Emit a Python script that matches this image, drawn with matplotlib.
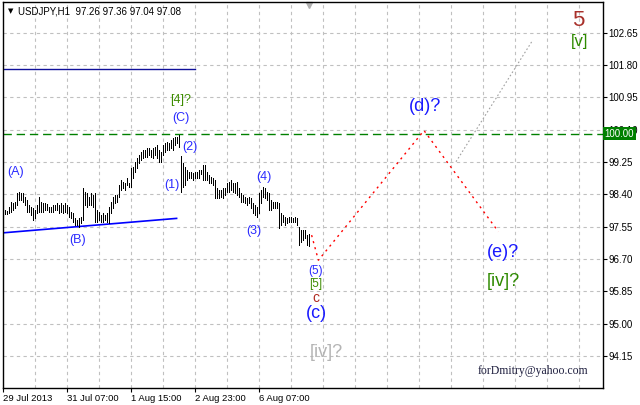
import numpy as np
import matplotlib.pyplot as plt

# hourly USDJPY bars (high / low)
bar_high = [97.99, 97.96, 98.07, 98.20, 98.17, 98.20, 98.44, 98.46, 98.44, 98.44,
            98.33, 98.25, 98.12, 98.07, 98.04, 97.99, 98.12, 98.33, 98.20, 98.17,
            98.17, 98.15, 98.07, 98.07, 98.12, 98.12, 98.17, 98.12, 98.17, 98.12,
            98.17, 98.12, 98.07, 97.94, 97.91, 97.78, 97.72, 97.78, 97.80, 98.57,
            98.46, 98.44, 98.33, 98.44, 98.38, 98.44, 97.99, 97.94, 97.86, 97.91,
            97.86, 97.91, 98.07,
            98.20, 98.33, 98.38, 98.38, 98.65, 98.78, 98.72, 98.70, 98.83, 98.70,
            99.09, 99.12, 99.25, 99.35, 99.43, 99.51, 99.57, 99.57, 99.62, 99.62,
            99.57, 99.62, 99.65, 99.70, 99.57, 99.51, 99.70, 99.75, 99.78, 99.75,
            99.83, 99.88, 99.91, 99.91, 99.96,
            99.40, 99.22, 99.12, 99.04, 98.99, 98.99, 98.96, 98.99, 98.99, 99.04,
            99.04, 99.17, 99.17, 98.99, 98.91, 98.86, 98.83, 98.78, 98.57, 98.51,
            98.51, 98.57, 98.57, 98.70, 98.72, 98.78, 98.70, 98.70, 98.72, 98.57,
            98.44, 98.38, 98.33, 98.30, 98.33, 98.30, 98.17, 98.12, 98.07, 98.44,
            98.51, 98.59, 98.57, 98.46, 98.44, 98.25, 98.20, 98.20, 98.20, 98.17,
            97.91, 97.86, 97.80, 97.78, 97.80, 97.80, 97.78, 97.80, 97.78, 97.54,
            97.46, 97.46, 97.46, 97.33, 97.36]
bar_low = [97.88, 97.88, 97.91, 97.94, 97.99, 98.04, 98.12, 98.25, 98.25, 98.20,
           98.12, 97.94, 97.94, 97.86, 97.72, 97.78, 97.91, 97.94, 97.94, 97.94,
           97.99, 97.99, 97.94, 97.94, 97.94, 97.99, 97.99, 97.91, 97.94, 97.91,
           97.94, 97.91, 97.80, 97.78, 97.67, 97.59, 97.59, 97.54, 97.64, 97.72,
           98.12, 98.07, 98.12, 98.12, 98.07, 97.67, 97.67, 97.72, 97.67, 97.67,
           97.72, 97.67, 97.64,
           97.91, 98.04, 98.17, 98.20, 98.33, 98.51, 98.57, 98.51, 98.65, 98.59,
           98.59, 98.83, 98.99, 99.09, 99.22, 99.30, 99.35, 99.38, 99.38, 99.43,
           99.38, 99.35, 99.43, 99.35, 99.25, 99.25, 99.43, 99.51, 99.57, 99.57,
           99.62, 99.57, 99.70, 99.75, 99.65,
           98.46, 98.59, 98.65, 98.78, 98.83, 98.83, 98.78, 98.83, 98.83, 98.83,
           98.93, 98.78, 98.78, 98.78, 98.70, 98.70, 98.65, 98.30, 98.30, 98.30,
           98.33, 98.30, 98.38, 98.46, 98.46, 98.51, 98.46, 98.44, 98.38, 98.33,
           98.20, 98.20, 98.17, 98.12, 98.17, 98.04, 97.91, 97.86, 97.80, 97.91,
           98.17, 98.33, 98.30, 98.25, 97.99, 97.99, 98.04, 98.04, 98.04, 97.51,
           97.59, 97.67, 97.59, 97.64, 97.67, 97.67, 97.67, 97.67, 97.59, 97.07,
           97.15, 97.20, 97.25, 97.07, 97.04]

y_ticks = [94.15, 95.00, 95.85, 96.70, 97.55, 98.40, 99.25, 100.10, 100.95, 101.80, 102.65]
x_tick_bars = [0, 32, 64, 96, 128]
x_tick_labels = ["29 Jul 2013", "31 Jul 07:00", "1 Aug 15:00", "2 Aug 23:00", "6 Aug 07:00"]

level_price = 100.00
upper_line = 101.69
trend_x = [0, 86.8]
trend_y = [97.39, 97.77]

# forecast path (bar index, price)
red_x = [154.3, 157.7, 210.5, 247.7]
red_y = [97.33, 96.67, 100.08, 97.42]
grey_x = [226.5, 264.9]
grey_y = [99.26, 102.46]

# wave labels: text, bar index, price, colour, size
labels = [
    ("(A)", 6.5, 98.99, "#2a2aff", 9),
    ("(B)", 37.5, 97.20, "#2a2aff", 9),
    ("(C)", 89, 100.41, "#2a2aff", 9),
    ("[4]?", 89, 100.88, "#3d8c00", 9),
    ("(1)", 84.5, 98.64, "#2a2aff", 9),
    ("(2)", 93.5, 99.64, "#2a2aff", 9),
    ("(3)", 125.5, 97.43, "#2a2aff", 9),
    ("(4)", 130.5, 98.85, "#2a2aff", 9),
    ("(5)", 156.5, 96.38, "#2a2aff", 8.5),
    ("[5]", 156.5, 96.04, "#3d8c00", 8.5),
    ("c", 156.5, 95.68, "#b02a20", 10),
    ("(c)", 156.5, 95.26, "#1a1aff", 13),
    ("[iv]?", 161.5, 94.25, "#b4b4b4", 13),
    ("(d)?", 211, 100.72, "#1a1aff", 13),
    ("(e)?", 250, 96.86, "#1a1aff", 13),
    ("[iv]?", 250, 96.12, "#2e8a00", 13),
    ("5", 287.5, 102.98, "#a8302a", 16),
    ("[v]", 288.5, 102.41, "#2e8a00", 12),
]

plt.rcParams['font.family'] = ['Liberation Sans', 'DejaVu Sans']

fig = plt.figure(figsize=(6.4, 4.05), dpi=100)
ax = fig.add_axes([3 / 640, 17 / 405, 600 / 640, 386 / 405])
ax.set_xlim(0, 300)
ax.set_ylim(93.31, 103.46)

# grid
for yt in y_ticks:
    ax.axhline(yt, color="#c0c0c0", lw=0.8, ls=(0, (3, 3)), zorder=0)
for xt in range(16, 300, 16):
    ax.axvline(xt, color="#c0c0c0", lw=0.8, ls=(0, (3, 3)), zorder=0)

x = np.arange(1, len(bar_high) + 1)
ax.vlines(x, bar_low, bar_high, color="black", lw=0.6, antialiased=False, zorder=3)

ax.axhline(level_price, color="#008000", lw=1, ls=(0, (6, 3.5)), zorder=2)
ax.plot([0, 96], [upper_line, upper_line], color="#10109a", lw=1, zorder=2)
ax.plot(trend_x, trend_y, color="#0000ff", lw=1.2, zorder=2)
ax.plot(red_x, red_y, color="red", lw=1, ls=(0, (1.5, 3)), zorder=2)
ax.plot(grey_x, grey_y, color="#a0a0a0", lw=0.8, ls=(0, (1.5, 2)), zorder=2)

for txt, bx, py, col, fs in labels:
    ax.text(bx, py, txt, color=col, fontsize=fs, ha="center", va="center", zorder=4)

ax.text(265, 93.75, "forDmitry@yahoo.com", family="Liberation Serif", fontsize=8.5,
        color="#202040", ha="center", va="center")

# header
ax.text(0.008, 0.985, "\u25bc", transform=ax.transAxes, fontsize=5, family="DejaVu Sans",
        ha="left", va="top")
ax.text(0.025, 0.988, "USDJPY,H1  97.26 97.36 97.04 97.08", transform=ax.transAxes,
        fontsize=7, ha="left", va="top")
ax.plot([306 / 600], [0.992], marker="v", color="#b0b0b0", ms=4, transform=ax.transAxes,
        clip_on=False)

# axes
ax.yaxis.tick_right()
ax.set_yticks(y_ticks)
ax.set_yticklabels(["%.2f" % v for v in y_ticks])
ax.tick_params(axis="y", direction="out", length=3, width=0.8, labelsize=7, pad=1)
ax.set_xticks(x_tick_bars)
ax.set_xticklabels(x_tick_labels)
for lbl in ax.get_xticklabels():
    lbl.set_horizontalalignment("left")
ax.tick_params(axis="x", direction="out", length=3, width=0.8, labelsize=6.8, pad=1.5)
for sp in ax.spines.values():
    sp.set_color("black")
    sp.set_linewidth(1)

ax.text(1.003, level_price, "100.00", transform=ax.get_yaxis_transform(), fontsize=7,
        color="white", ha="left", va="center", clip_on=False,
        bbox=dict(boxstyle="square,pad=0.15", fc="#008000", ec="none"))

fig.savefig("out.png", dpi=100)
